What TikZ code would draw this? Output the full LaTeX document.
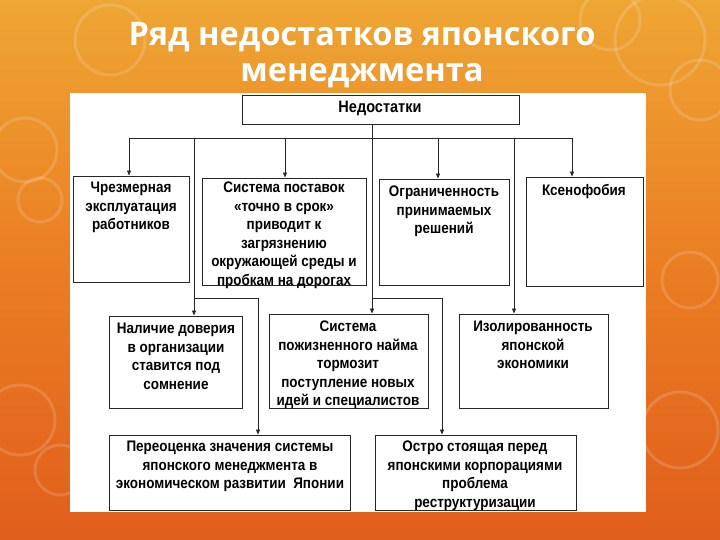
\documentclass[tikz,border=0pt]{standalone}
\usepackage{fontspec}
\setmainfont{Liberation Sans}
\newfontfamily\boxfont[FakeStretch=0.88]{Liberation Sans}
\newfontfamily\titlefont{Open Sans}
\usetikzlibrary{arrows.meta,fit}
\definecolor{bgtop}{RGB}{238,166,52}
\definecolor{bgmid}{RGB}{234,125,35}
\definecolor{bgbot}{RGB}{224,94,28}
\begin{document}
\begin{tikzpicture}[x=1pt,y=-1pt,
  ln/.style={draw=black!85, line width=0.8pt},
  arr/.style={ln, -{Triangle[length=5pt,width=4pt]}},
  box/.style={draw=black!85, line width=0.9pt, fill=white, inner sep=0pt},
  txt/.style={font=\boxfont\bfseries\fontsize{15.3}{18.5}\selectfont, align=center, inner sep=0pt, anchor=north, text=black},
  ring/.style={draw=white, draw opacity=0.15, line width=3pt}
]
\useasboundingbox (0,0) rectangle (720,540);
\shade[top color=bgtop, bottom color=bgbot, middle color=bgmid] (0,0) rectangle (720,540);
% decorative rings
\draw[ring] (25,150) circle (32);
\draw[ring] (40,200) circle (22);
\draw[ring] (20,420) circle (35);
\draw[ring] (60,470) circle (25);
\draw[ring] (660,40) circle (45);
\draw[ring] (700,90) circle (30);
\draw[ring] (690,280) circle (28);
\draw[ring] (680,430) circle (38);
\draw[ring] (110,40) circle (35);
\draw[ring] (610,20) circle (30);
% title
\node[font=\titlefont\bfseries\fontsize{32.5}{36}\selectfont, text=white, align=center] (title) at (362,55) {Ряд недостатков японского\\менеджмента};
% panel
\fill[white] (70,93) rectangle (646,512);
% boxes
\node[box, fit={(242,95)(519,124)}] (top) {};
\node[box, fit={(73,176)(189,282)}] (b1) {};
\node[box, fit={(202,178)(366,285)}] (b2) {};
\node[box, fit={(379,179)(509,285)}] (b3) {};
\node[box, fit={(526,177)(643,286)}] (b4) {};
\node[box, fit={(109,316)(242,408)}] (n1) {};
\node[box, fit={(269,314)(428,408)}] (mid) {};
\node[box, fit={(459,314)(608,408)}] (iso) {};
\node[box, fit={(109,435)(350,510)}] (p1) {};
\node[box, fit={(375,435)(576,510)}] (p2) {};
% texts
\node[txt, font=\boxfont\bfseries\fontsize{16.5}{18.5}\selectfont] (ttop) at (380,101) {Недостатки};
\node[txt] (t1) at (131,182) {Чрезмерная\\эксплуатация\\работников};
\node[txt] (t2) at (284,182) {Система поставок\\«точно в срок»\\приводит к\\загрязнению\\окружающей среды и\\пробкам на дорогах};
\node[txt] (t3) at (444,186) {Ограниченность\\принимаемых\\решений};
\node[txt] (t4) at (584,184) {Ксенофобия};
\node[txt] (tn1) at (176,323) {Наличие доверия\\в организации\\ставится под\\сомнение};
\node[txt] (tmid) at (348,321) {Система\\пожизненного найма\\тормозит\\поступление новых\\идей и специалистов};
\node[txt] (tiso) at (533,321) {Изолированность\\японской\\экономики};
\node[txt] (tp1) at (230,441) {Переоценка значения системы\\японского менеджмента в\\экономическом развитии~ Японии};
\node[txt] (tp2) at (475,441) {Остро стоящая перед\\японскими корпорациями\\проблема\\реструктуризации};
% connectors
\coordinate (dL) at (129,138);
\coordinate (dR) at (572,138);
\coordinate (d2) at (285,138);
\coordinate (d3) at (438,138);
\coordinate (dA) at (194,138);
\coordinate (dB) at (514,138);
\coordinate (c0) at (372,124);
\coordinate (jA) at (194,298);
\coordinate (kA) at (258,298);
\coordinate (jB) at (372,298);
\coordinate (kB) at (442,298);
\draw[ln] (dL) -- (dR);
\draw[arr] (dL) -- (dL |- b1.north);
\draw[arr] (d2) -- (d2 |- b2.north);
\draw[arr] (d3) -- (d3 |- b3.north);
\draw[arr] (dR) -- (dR |- b4.north);
\draw[arr] (dA) -- (dA |- n1.north);
\draw[arr] (dB) -- (dB |- iso.north);
\draw[arr] (c0) -- (c0 |- mid.north);
\draw[arr] (jA) -- (kA) -- (kA |- p1.north);
\draw[arr] (jB) -- (kB) -- (kB |- p2.north);
\end{tikzpicture}
\end{document}
